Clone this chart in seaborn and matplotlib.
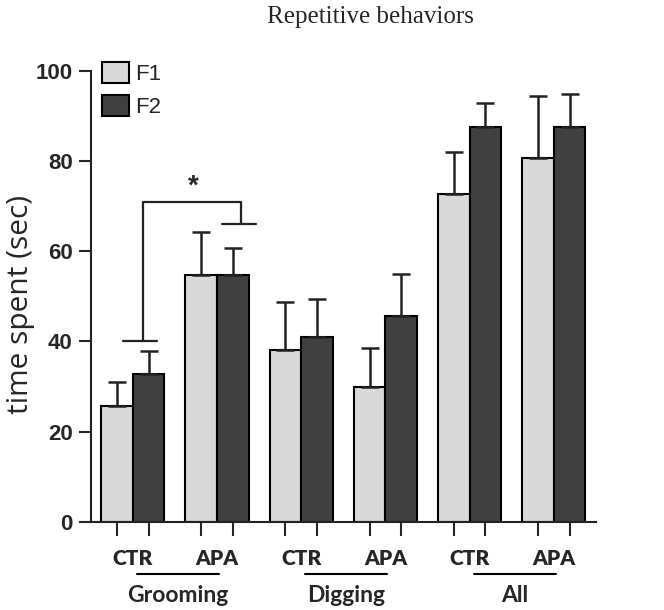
import pandas as pd
import seaborn as sns
import matplotlib.pyplot as plt
import matplotlib.transforms as mtransforms

# Data
conditions = ["Grooming CTR", "Grooming APA", "Digging CTR", "Digging APA", "All CTR", "All APA"]
cond_labels = ["CTR", "APA", "CTR", "APA", "CTR", "APA"]
groups = ["Grooming", "Digging", "All"]
f1_mean = [25.7, 54.8, 38.1, 29.9, 72.8, 80.8]
f1_err = [5.3, 9.4, 10.7, 8.6, 9.3, 13.7]
f2_mean = [32.8, 54.8, 41.0, 45.7, 87.5, 87.6]
f2_err = [5.1, 5.9, 8.4, 9.3, 5.4, 7.3]

# significance bracket (Grooming CTR vs APA)
sig_low = 40
sig_top = 71
sig_high = 66

colors = ["#d9d9d9", "#404040"]

df = pd.DataFrame({
    "cond": conditions * 2,
    "gen": ["F1"] * len(conditions) + ["F2"] * len(conditions),
    "value": f1_mean + f2_mean,
})

sns.set_theme(style="ticks")
plt.rcParams["font.family"] = ["Liberation Sans", "DejaVu Sans"]

fig = plt.figure(figsize=(6.64, 6.10), dpi=100)
ax = fig.add_axes([0.1366, 0.1448, 0.761, 0.7388])

sns.barplot(data=df, x="cond", y="value", hue="gen", palette=colors,
            width=0.75, edgecolor="black", linewidth=1.5, errorbar=None,
            saturation=1, ax=ax)

# one-sided error bars at bar centres
centers = []
for cont, errs in zip(ax.containers, [f1_err, f2_err]):
    xs = [p.get_x() + p.get_width() / 2 for p in cont.patches]
    tops = [p.get_height() for p in cont.patches]
    centers.append(xs)
    ax.errorbar(xs, tops, yerr=[[0] * len(errs), errs], fmt="none",
                ecolor="#222222", elinewidth=1.8, capsize=6.5, capthick=1.8, zorder=1)

ax.set_xlim(-0.5, 5.5)
ax.set_ylim(0, 100)
ax.set_yticks([0, 20, 40, 60, 80, 100])
ax.tick_params(axis="y", length=9, width=1.5, pad=4, labelsize=16)
for lab in ax.get_yticklabels():
    lab.set_fontweight("bold")

# ticks under each bar, labels between the pair
ax.set_xticks(sorted(centers[0] + centers[1]))
ax.set_xticklabels([])
ax.tick_params(axis="x", length=10, width=1.5)
ax.set_xlabel("")
ax.set_ylabel("time spent (sec)", fontsize=21.5, family="Open Sans")
ax.yaxis.set_label_coords(-0.11, 0.483)

trans = mtransforms.blended_transform_factory(ax.transData, ax.transAxes)
for i, lab in enumerate(cond_labels):
    ax.text(i, -0.096, lab, transform=trans, ha="center", va="baseline",
            fontsize=15, fontweight="heavy", family="Lato")
for g, name in enumerate(groups):
    x0 = 2 * g
    ax.plot([x0 + 0.05, x0 + 1.02], [-0.116, -0.116], transform=trans,
            color="black", lw=1.5, clip_on=False)
    ax.text(x0 + 0.53, -0.178, name, transform=trans, ha="center", va="baseline",
            fontsize=16.5, fontweight="bold", family="Lato")

for s in ["left", "bottom"]:
    ax.spines[s].set_linewidth(1.5)
    ax.spines[s].set_color("#222222")
sns.despine(ax=ax)

# significance bracket
ax.plot([-0.12, 0.29], [sig_low, sig_low], color="#222222", lw=1.6)
ax.plot([0.118, 0.118, 1.28, 1.28], [sig_low, sig_top, sig_top, sig_high], color="#222222", lw=1.6)
ax.plot([1.06, 1.46], [sig_high, sig_high], color="#222222", lw=1.6)
ax.text(0.715, sig_top + 0.5, "*", ha="center", va="bottom", fontsize=20, fontweight="bold")

leg = ax.legend(loc="upper left", bbox_to_anchor=(0.005, 1.04), frameon=False,
                fontsize=16, handlelength=1.2, handleheight=1.1,
                handletextpad=0.3, labelspacing=0.45, borderaxespad=0)
for h in leg.legend_handles:
    h.set_edgecolor("black")
    h.set_linewidth(1.5)

fig.suptitle("Repetitive behaviors", x=0.558, y=0.99, family="Liberation Serif", fontsize=18)

fig.savefig("out.png", dpi=100)
